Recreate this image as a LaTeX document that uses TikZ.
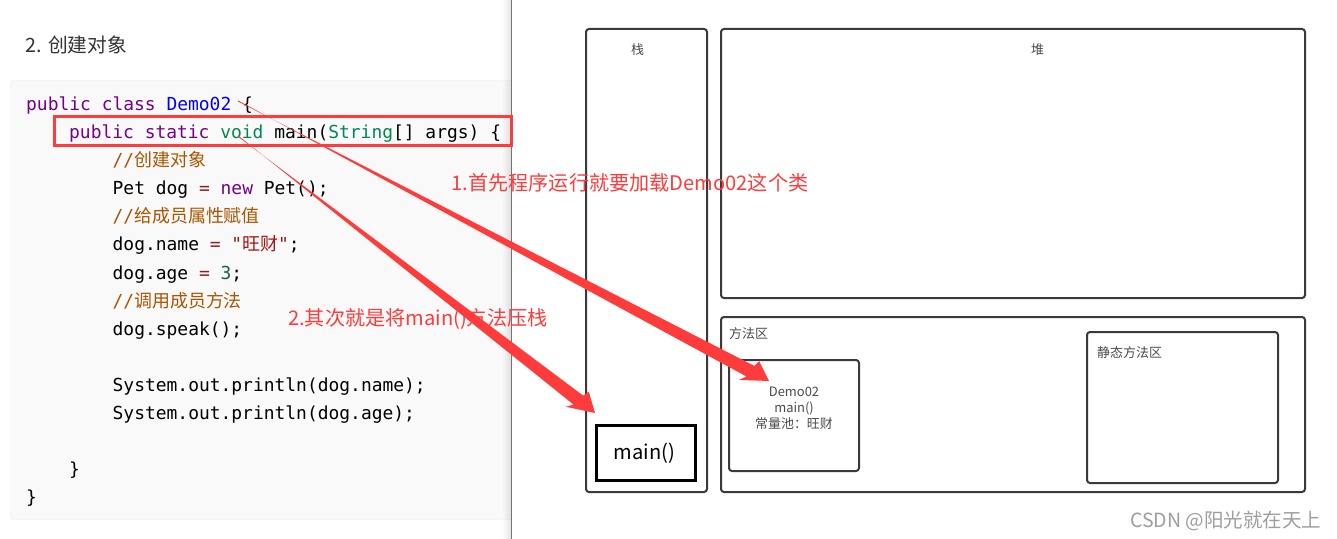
\documentclass[tikz,border=0pt]{standalone}
\usepackage{fontspec}
\usepackage{xcolor}
\usetikzlibrary{calc}
\setmainfont{Noto Sans CJK SC}
\setmonofont{DejaVu Sans Mono}
\newfontfamily\cjk{Noto Sans CJK SC}
\definecolor{kwc}{HTML}{770088}
\definecolor{defc}{HTML}{0000FF}
\definecolor{typec}{HTML}{008855}
\definecolor{cmc}{HTML}{AA5500}
\definecolor{strc}{HTML}{AA1111}
\definecolor{numc}{HTML}{116644}
\definecolor{opc}{HTML}{981A1A}
\definecolor{redc}{HTML}{FF3B3B}
\definecolor{boxc}{HTML}{3A3A3A}
\definecolor{txtc}{HTML}{4A4A4A}
\newcommand{\kw}[1]{\textcolor{kwc}{#1}}
\newcommand{\ty}[1]{\textcolor{typec}{#1}}
\newcommand{\op}[1]{\textcolor{opc}{#1}}
\newcommand{\cm}[1]{\textcolor{cmc}{//{\cjk\fontsize{18}{18}\selectfont #1}}}
\newcommand{\taperarrow}[2]{%
  \fill[redc]
    ($(#1)!0.5bp!90:(#2)$) --
    ($($(#2)!22bp!(#1)$)!6.5bp!-90:(#2)$) --
    ($($(#2)!27bp!(#1)$)!13bp!-90:(#2)$) --
    (#2) --
    ($($(#2)!18bp!(#1)$)!13bp!90:(#2)$) --
    ($($(#2)!20bp!(#1)$)!6.5bp!90:(#2)$) --
    ($(#1)!0.5bp!-90:(#2)$) -- cycle;}
\tikzset{
  codeline/.style={anchor=base west,inner sep=0pt,font=\ttfamily\fontsize{18}{18}\selectfont,text=black},
  panelbox/.style={draw=boxc,line width=2bp,rounded corners=3bp,fill=white},
  smalltxt/.style={inner sep=0pt,text=txtc,font=\fontsize{13}{16}\selectfont,align=center},
  redlabel/.style={anchor=base west,inner sep=0pt,text=redc,font=\fontsize{20.2}{20}\selectfont}
}
\begin{document}
\begin{tikzpicture}[x=1bp,y=-1bp]
\useasboundingbox (0,0) rectangle (1337,539);
\fill[white] (0,0) rectangle (1337,539);
\node[anchor=base west,inner sep=0pt,text=black!80,font=\fontsize{19.8}{20}\selectfont] (title) at (25.5,52.5) {2. 创建对象};
\fill[fill=black!2.5,draw=black!8,rounded corners=3bp] (10.5,80.5) rectangle (530,519.5);
\node[codeline] (l1) at (26,110.5) {\kw{public class} \textcolor{defc}{Demo02} \{};
\node[codeline] (l2) at (69,138.5) {\kw{public static} \ty{void} main(\ty{String}[] args) \{};
\node[codeline] (l3) at (112.5,167) {\cm{创建对象}};
\node[codeline] (l4) at (112.5,195) {Pet dog \op{=} \kw{new} Pet();};
\node[codeline] (l5) at (112.5,223) {\cm{给成员属性赋值}};
\node[codeline] (l6) at (112.5,251) {dog.name \op{=} \textcolor{strc}{"{\cjk\fontsize{18}{18}\selectfont 旺财}"};};
\node[codeline] (l7) at (112.5,279) {dog.age \op{=} \textcolor{numc}{3};};
\node[codeline] (l8) at (112.5,307) {\cm{调用成员方法}};
\node[codeline] (l9) at (112.5,335) {dog.speak();};
\node[codeline] (l10) at (112.5,391) {System.out.println(dog.name);};
\node[codeline] (l11) at (112.5,419) {System.out.println(dog.age);};
\node[codeline] (l12) at (69,475) {\}};
\node[codeline] (l13) at (26,503) {\}};
\foreach \i in {0,...,9} {
  \fill[black,opacity=0.012*\i] (502+\i,0) rectangle (503+\i,539);
}
\fill[white] (512,0) rectangle (1337,539);
\draw[black!55,line width=1bp] (511.5,0) -- (511.5,539);
\draw[redc,line width=3bp] (54,116.5) rectangle (511.5,146);
% memory panels
\node[panelbox,minimum width=121bp,minimum height=463bp,inner sep=0pt] (stack) at (646.5,260.5) {};
\node[panelbox,minimum width=584bp,minimum height=269bp,inner sep=0pt] (heap) at (1013,163.5) {};
\node[panelbox,minimum width=584bp,minimum height=175bp,inner sep=0pt] (method) at (1013,404.5) {};
\node[panelbox,minimum width=130bp,minimum height=111bp,inner sep=0pt] (demo) at (794,415.5) {};
\node[panelbox,minimum width=191bp,minimum height=151bp,inner sep=0pt] (static) at (1182.5,407.5) {};
\node[draw=black,line width=3bp,minimum width=99bp,minimum height=55bp,inner sep=0pt,fill=white,font=\fontsize{20.2}{20}\selectfont] (mainbox) at (646,453) {\hspace*{-3bp}main()};
\node[smalltxt] (stacklab) at (637.5,49.5) {栈};
\node[smalltxt] (heaplab) at (1037.5,49.5) {堆};
\node[smalltxt,anchor=west] (methodlab) at (729,333.5) {方法区};
\node[smalltxt,anchor=west] (staticlab) at (1097,352.5) {静态方法区};
\node[smalltxt] (demolab) at (794,408) {Demo02\\main()\\常量池：旺财};
% connectors
\coordinate (s1) at (238,101);
\coordinate (t1) at (769,381);
\coordinate (s2) at (238,136);
\coordinate (t2) at (595,413);
\node[redlabel] (lab1) at (451.5,191) {1.首先程序运行就要加载Demo02这个类};
\node[redlabel] (lab2) at (288,325.5) {2.其次就是将main()方法压栈};
\taperarrow{s1}{t1}
\taperarrow{s2}{t2}
\node[anchor=base west,inner sep=0pt,text=black!38,font=\fontsize{19.6}{20}\selectfont] (mark) at (1130,527.5) {CSDN @阳光就在天上};
\end{tikzpicture}
\end{document}
